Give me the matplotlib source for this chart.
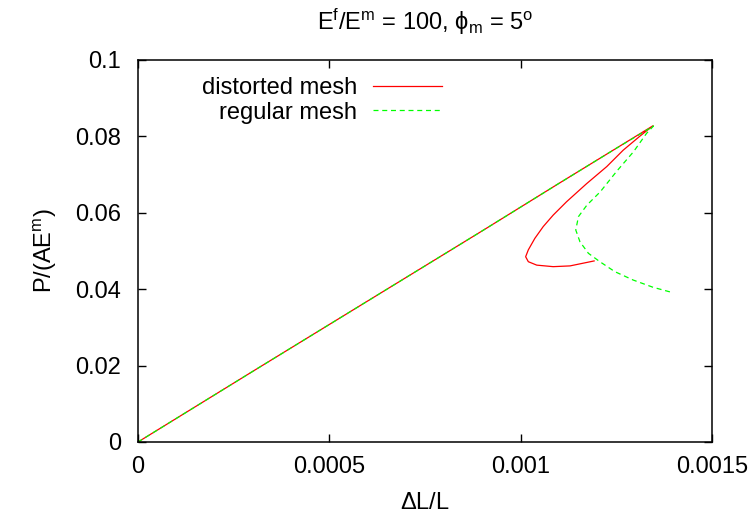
import matplotlib
matplotlib.use("Agg")
import matplotlib.pyplot as plt
from matplotlib.ticker import FuncFormatter

plt.rcParams["font.family"] = ["Liberation Sans", "DejaVu Sans"]
plt.rcParams["mathtext.fontset"] = "custom"
plt.rcParams["mathtext.rm"] = "Liberation Sans"
plt.rcParams["mathtext.it"] = "Liberation Sans"

# ── Data (strain, load) ──────────────────────────────────────────────────────

distorted_x = [0.0, 0.0003, 0.0006, 0.0009, 0.0011, 0.00125, 0.001346,
               0.001312, 0.001268, 0.001225, 0.001172, 0.00112, 0.001085,
               0.001059, 0.001037, 0.00102, 0.001013, 0.00102, 0.001042,
               0.001085, 0.001129, 0.001192]
distorted_y = [0.0, 0.0185, 0.0369, 0.0553, 0.0677, 0.0769, 0.0828,
               0.0801, 0.0764, 0.0721, 0.0676, 0.0629, 0.0594,
               0.0564, 0.0533, 0.0503, 0.0485, 0.0472, 0.0463,
               0.0459, 0.0461, 0.0474]

regular_x = [0.0, 0.0003, 0.0006, 0.0009, 0.0011, 0.00125, 0.001347,
             0.001329, 0.001295, 0.001252, 0.001208, 0.001173, 0.001151,
             0.001144, 0.001155, 0.001177, 0.001207, 0.001246, 0.001294,
             0.001346, 0.00139]
regular_y = [0.0, 0.0185, 0.0369, 0.0553, 0.0677, 0.0769, 0.0827,
             0.0808, 0.0760, 0.0710, 0.0655, 0.0620, 0.0590,
             0.0555, 0.0524, 0.0494, 0.0472, 0.0446, 0.0424,
             0.0405, 0.0393]

x_ticks = [0, 0.0005, 0.001, 0.0015]
y_ticks = [0, 0.02, 0.04, 0.06, 0.08, 0.1]

# ── Plot ─────────────────────────────────────────────────────────────────────

fig = plt.figure(figsize=(7.56, 5.16), dpi=100)
ax = fig.add_axes([138 / 756, 1 - 442 / 516, 574 / 756, 382 / 516])

ax.plot(distorted_x, distorted_y, color="#ff0000", lw=0.9,
        label="distorted mesh")
ax.plot(regular_x, regular_y, color="#00ff00", lw=0.9,
        linestyle=(0, (4, 3)), label="regular mesh")

ax.set_xlim(0, 0.0015)
ax.set_ylim(0, 0.1)
ax.set_xticks(x_ticks)
ax.set_yticks(y_ticks)
fmt = FuncFormatter(lambda v, p: "%g" % v)
ax.xaxis.set_major_formatter(fmt)
ax.yaxis.set_major_formatter(fmt)
ax.tick_params(direction="in", length=6, width=1, labelsize=17,
               top=True, right=True)
ax.tick_params(axis="y", pad=12)
ax.tick_params(axis="x", pad=10)
for s in ax.spines.values():
    s.set_linewidth(1.1)

ax.set_xlabel(r"$\Delta$L/L", fontsize=17, labelpad=10)
ax.set_ylabel(r"P/(AE$^\mathregular{m}$)", fontsize=17, labelpad=12)
ax.set_title(r"E$^\mathregular{f}$/E$^\mathregular{m}$ = 100, "
             r"$\mathregular{\phi_m}$ = 5$^\mathregular{o}$",
             fontsize=17, pad=22)

ax.legend(loc="upper left", bbox_to_anchor=(0.082, 0.998), frameon=False,
          markerfirst=False, fontsize=17, handlelength=2.9,
          handletextpad=0.7, labelspacing=0.1, borderaxespad=0.3)

fig.savefig("out.png", dpi=100)
